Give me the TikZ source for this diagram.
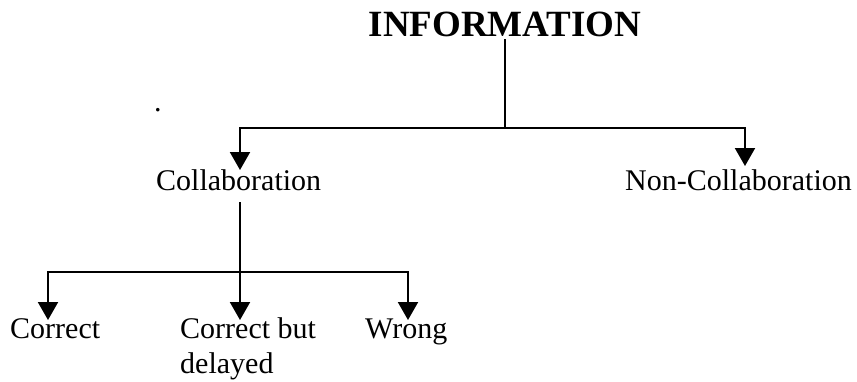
\documentclass[tikz,border=0pt]{standalone}
\usepackage{fontspec}
\setmainfont{Liberation Serif}
\usetikzlibrary{arrows.meta,positioning}
\tikzset{
  lbl/.style={inner sep=0pt,anchor=base west,font=\fontsize{30}{35}\selectfont},
  flow/.style={line width=2pt,-{Triangle[length=18pt,width=20pt]}},
  plain/.style={line width=2pt}
}

\begin{document}
\begin{tikzpicture}[x=1pt,y=-1pt]
\useasboundingbox (0,0) rectangle (857,381);
% \draw[help lines,step=50] (0,0) grid (857,381);
\node (info) [inner sep=0pt,anchor=base,font=\fontsize{37}{40}\selectfont\bfseries] at (505,36) {INFORMATION};
\node (dot) [lbl] at (154,111) {.};
\node (collab) [lbl] at (156,190) {Collaboration};
\node (noncollab) [lbl] at (625,190) {Non-Collaboration};
\node (correct) [lbl] at (10,338) {Correct};
\node (delayed) [lbl,align=left] at (180,373) {Correct but\\delayed};
\node (wrong) [lbl] at (365,338) {Wrong};
%
\coordinate (j1) at (505,128);
\coordinate (t1) at (240,170);
\coordinate (t2) at (745,166);
\coordinate (c0) at (240,202);
\coordinate (j2) at (240,272);
\coordinate (t3) at (48,320);
\coordinate (t4) at (240,320);
\coordinate (t5) at (408,320);
%
\draw[plain] ([yshift=-3pt]info.base) -- (j1);
\draw[flow] (j1) -| (t1);
\draw[flow] (j1) -| (t2);
\draw[plain] (c0) -- (j2);
\draw[flow] (j2) -| (t3);
\draw[flow] (j2) -- (t4);
\draw[flow] (j2) -| (t5);
\end{tikzpicture}
\end{document}
